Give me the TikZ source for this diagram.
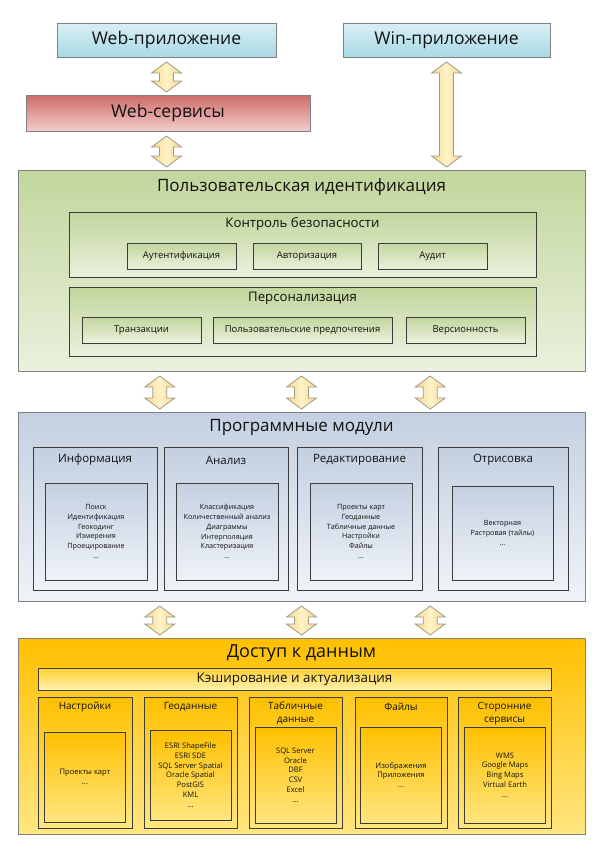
\documentclass[tikz,border=0pt]{standalone}
\usepackage{fontspec}
\setmainfont{Open Sans}
\usetikzlibrary{calc}

\definecolor{appTop}{HTML}{D8EFF4}
\definecolor{appBot}{HTML}{A9D9E5}
\definecolor{svcTop}{HTML}{CD6C69}
\definecolor{svcBot}{HTML}{F3CCCC}
\definecolor{grnTop}{HTML}{C2D69D}
\definecolor{grnBot}{HTML}{EAF1DD}
\definecolor{bluTop}{HTML}{C4D0E1}
\definecolor{bluBot}{HTML}{EFF3F8}
\definecolor{ylwTop}{HTML}{FFC000}
\definecolor{ylwBot}{HTML}{FFE680}
\definecolor{cchTop}{HTML}{FFD030}
\definecolor{cchBot}{HTML}{FFF2B0}
\definecolor{arrMid}{HTML}{FFF3C8}
\definecolor{arrSide}{HTML}{F4D68C}
\definecolor{arrLine}{HTML}{A09A8A}
\definecolor{outLine}{HTML}{808080}
\definecolor{inLine}{HTML}{3C3C3C}
\definecolor{textc}{HTML}{111111}

\tikzset{
  wh/.style 2 args={minimum width=#1pt, minimum height=#2pt},
  base/.style={inner sep=0pt, outer sep=0pt, text=textc},
  appbox/.style={base, draw=outLine, line width=1pt, top color=appTop, bottom color=appBot,
    font=\fontsize{17.5}{20}\selectfont},
  svcbox/.style={base, draw=outLine, line width=1pt, top color=svcTop, bottom color=svcBot,
    font=\fontsize{17.5}{20}\selectfont},
  greenbox/.style={base, draw=outLine, line width=1pt, top color=grnTop, bottom color=grnBot},
  greenin/.style={base, draw=inLine, line width=0.8pt, top color=grnTop, bottom color=grnBot},
  bluebox/.style={base, draw=outLine, line width=1pt, top color=bluTop, bottom color=bluBot},
  bluein/.style={base, draw=inLine, line width=0.8pt, top color=bluTop, bottom color=bluBot,
    align=center, font=\fontsize{7.2}{9.8}\selectfont},
  yellowbox/.style={base, draw=outLine, line width=1pt, top color=ylwTop, bottom color=ylwBot},
  yellowin/.style={base, draw=inLine, line width=0.8pt, top color=ylwTop, bottom color=ylwBot,
    align=center, font=\fontsize{7.6}{9.8}\selectfont},
  cachebox/.style={base, draw=inLine, line width=0.8pt, top color=cchTop, bottom color=cchBot,
    font=\fontsize{13.4}{15}\selectfont},
  smallbox/.style={greenin, font=\fontsize{9.5}{11}\selectfont},
  bigtitle/.style={base, font=\fontsize{17}{19}\selectfont},
  subtitle/.style={base, font=\fontsize{13.2}{15}\selectfont},
  modtitle/.style={base, font=\fontsize{11.5}{13}\selectfont},
  coltitle/.style={base, align=center, font=\fontsize{10}{13}\selectfont},
  blockarrow/.style={draw=arrLine, line width=0.8pt, line join=miter,
    left color=arrSide, right color=arrSide, middle color=arrMid}
}

% fat two-way arrow from #1 (upper end) down to #2 (lower end)
\newcommand{\twoway}[2]{%
  \path ($(#1)+(0,5)$) coordinate (tp) ($(#2)+(0,-3)$) coordinate (bp);
  \draw[blockarrow] (tp) -- ++(15,11) -- ++(-8,0) -- ($(bp)+(7,-11)$) -- ++(8,0)
    -- (bp) -- ++(-15,-11) -- ++(8,0) -- ($(tp)+(-7,11)$) -- ++(-8,0) -- cycle;
}

\begin{document}
\begin{tikzpicture}[x=1pt, y=-1pt]
\useasboundingbox (0,0) rectangle (600,854);

% clients
\node[appbox, wh={219}{34}] (webapp) at (166.5,40) {Web-приложение};
\node[appbox, wh={207}{34}] (winapp) at (446.5,40) {Win-приложение};
\node[svcbox, wh={284}{36}] (websvc) at (168,113) {Web-сервисы};

% user identification
\node[greenbox, wh={567}{201}] (ident) at (301.5,270.5) {};
\node[bigtitle] (identt) at (301.5,187) {Пользовательская идентификация};

\node[greenin, wh={467}{65}] (secur) at (302.5,244.5) {};
\node[subtitle] (securt) at (302.5,224) {Контроль безопасности};
\node[smallbox, wh={109}{26}] (authn) at (181.5,256) {Аутентификация};
\node[smallbox, wh={108}{26}] (authz) at (307,256) {Авторизация};
\node[smallbox, wh={109}{26}] (audit) at (432.5,256) {Аудит};

\node[greenin, wh={467}{69}] (perso) at (302.5,321.5) {};
\node[subtitle] (persot) at (302.5,298) {Персонализация};
\node[smallbox, wh={119}{26}] (trans) at (141.5,330) {Транзакции};
\node[smallbox, wh={179}{26}] (prefs) at (302.5,330) {Пользовательские предпочтения};
\node[smallbox, wh={119}{26}] (versn) at (465.5,330) {Версионность};

% program modules
\node[bluebox, wh={567}{189}] (modules) at (301.5,506.5) {};
\node[bigtitle] (modulest) at (301.5,427) {Программные модули};

\node[bluebox, draw=inLine, line width=0.8pt, wh={124}{143}] (info) at (95,518.5) {};
\node[modtitle] (infot) at (95,460) {Информация};
\node[bluein, wh={102}{97}] (infol) at (96,531.5)
  {Поиск\\Идентификация\\Геокодинг\\Измерения\\Проецирование\\...};

\node[bluebox, draw=inLine, line width=0.8pt, wh={124}{143}] (anlz) at (226,518.5) {};
\node[modtitle] (anlzt) at (226,460) {Анализ};
\node[bluein, wh={102}{97}] (anlzl) at (227,531.5)
  {Классификация\\Количественный анализ\\Диаграммы\\Интерполяция\\Кластеризация\\...};

\node[bluebox, draw=inLine, line width=0.8pt, wh={125}{143}] (edit) at (359.5,518.5) {};
\node[modtitle] (editt) at (359.5,460) {Редактирование};
\node[bluein, wh={102}{97}] (editl) at (361,531.5)
  {Проекты карт\\Геоданные\\Табличные данные\\Настройки\\Файлы\\...};

\node[bluebox, draw=inLine, line width=0.8pt, wh={130}{143}] (rendr) at (503,518.5) {};
\node[modtitle] (rendrt) at (503,460) {Отрисовка};
\node[bluein, wh={101}{94}] (rendrl) at (502.5,533)
  {Векторная\\Растровая (тайлы)\\...};

% data access
\node[yellowbox, wh={567}{196}] (data) at (301.5,736) {};
\node[base, font=\fontsize{18}{20}\selectfont] (datat) at (301.5,653) {Доступ к данным};
\node[cachebox, wh={513}{22}] (cache) at (294.5,679) {Кэширование и актуализация};

\node[yellowbox, draw=inLine, line width=0.8pt, wh={94}{131}] (setts) at (85,762.5) {};
\node[coltitle] (settst) at (85,707) {Настройки};
\node[yellowin, wh={81}{90}] (settsl) at (85,777) {Проекты карт\\...};

\node[yellowbox, draw=inLine, line width=0.8pt, wh={93}{131}] (geo) at (190.5,762.5) {};
\node[coltitle] (geot) at (190.5,707) {Геоданные};
\node[yellowin, wh={81}{90}] (geol) at (190.5,775)
  {ESRI ShapeFile\\ESRI SDE\\SQL Server Spatial\\Oracle Spatial\\PostGIS\\KML\\...};

\node[yellowbox, draw=inLine, line width=0.8pt, wh={93}{131}] (table) at (295.5,762.5) {};
\node[coltitle] (tablet) at (295.5,713.5) {Табличные\\данные};
\node[yellowin, wh={81}{96}] (tablel) at (295.5,775)
  {SQL Server\\Oracle\\DBF\\CSV\\Excel\\...};

\node[yellowbox, draw=inLine, line width=0.8pt, wh={92}{131}] (files) at (401,762.5) {};
\node[coltitle] (filest) at (401,707) {Файлы};
\node[yellowin, wh={81}{96}] (filesl) at (401,775) {Изображения\\Приложения\\...};

\node[yellowbox, draw=inLine, line width=0.8pt, wh={93}{131}] (extrn) at (504.5,762.5) {};
\node[coltitle] (extrnt) at (504.5,713.5) {Сторонние\\сервисы};
\node[yellowin, wh={81}{96}] (extrnl) at (505,775)
  {WMS\\Google Maps\\Bing Maps\\Virtual Earth\\...};

% two-way links
\coordinate (svctop) at (webapp.south |- websvc.north);
\coordinate (svcbot) at (webapp.south |- websvc.south);
\coordinate (idtop) at (webapp.south |- ident.north);
\coordinate (wintop) at (winapp.south |- ident.north);
\twoway{webapp.south}{svctop}
\twoway{svcbot}{idtop}
\twoway{winapp.south}{wintop}

\foreach \f/\n in {0.25/1, 0.5/2, 0.727/3} {
  \coordinate (gb\n) at ($(ident.south west)!\f!(ident.south east)$);
  \coordinate (bt\n) at (gb\n |- modules.north);
  \coordinate (bb\n) at (gb\n |- modules.south);
  \coordinate (yt\n) at (gb\n |- data.north);
  \twoway{gb\n}{bt\n}
  \twoway{bb\n}{yt\n}
}
\end{tikzpicture}
\end{document}
